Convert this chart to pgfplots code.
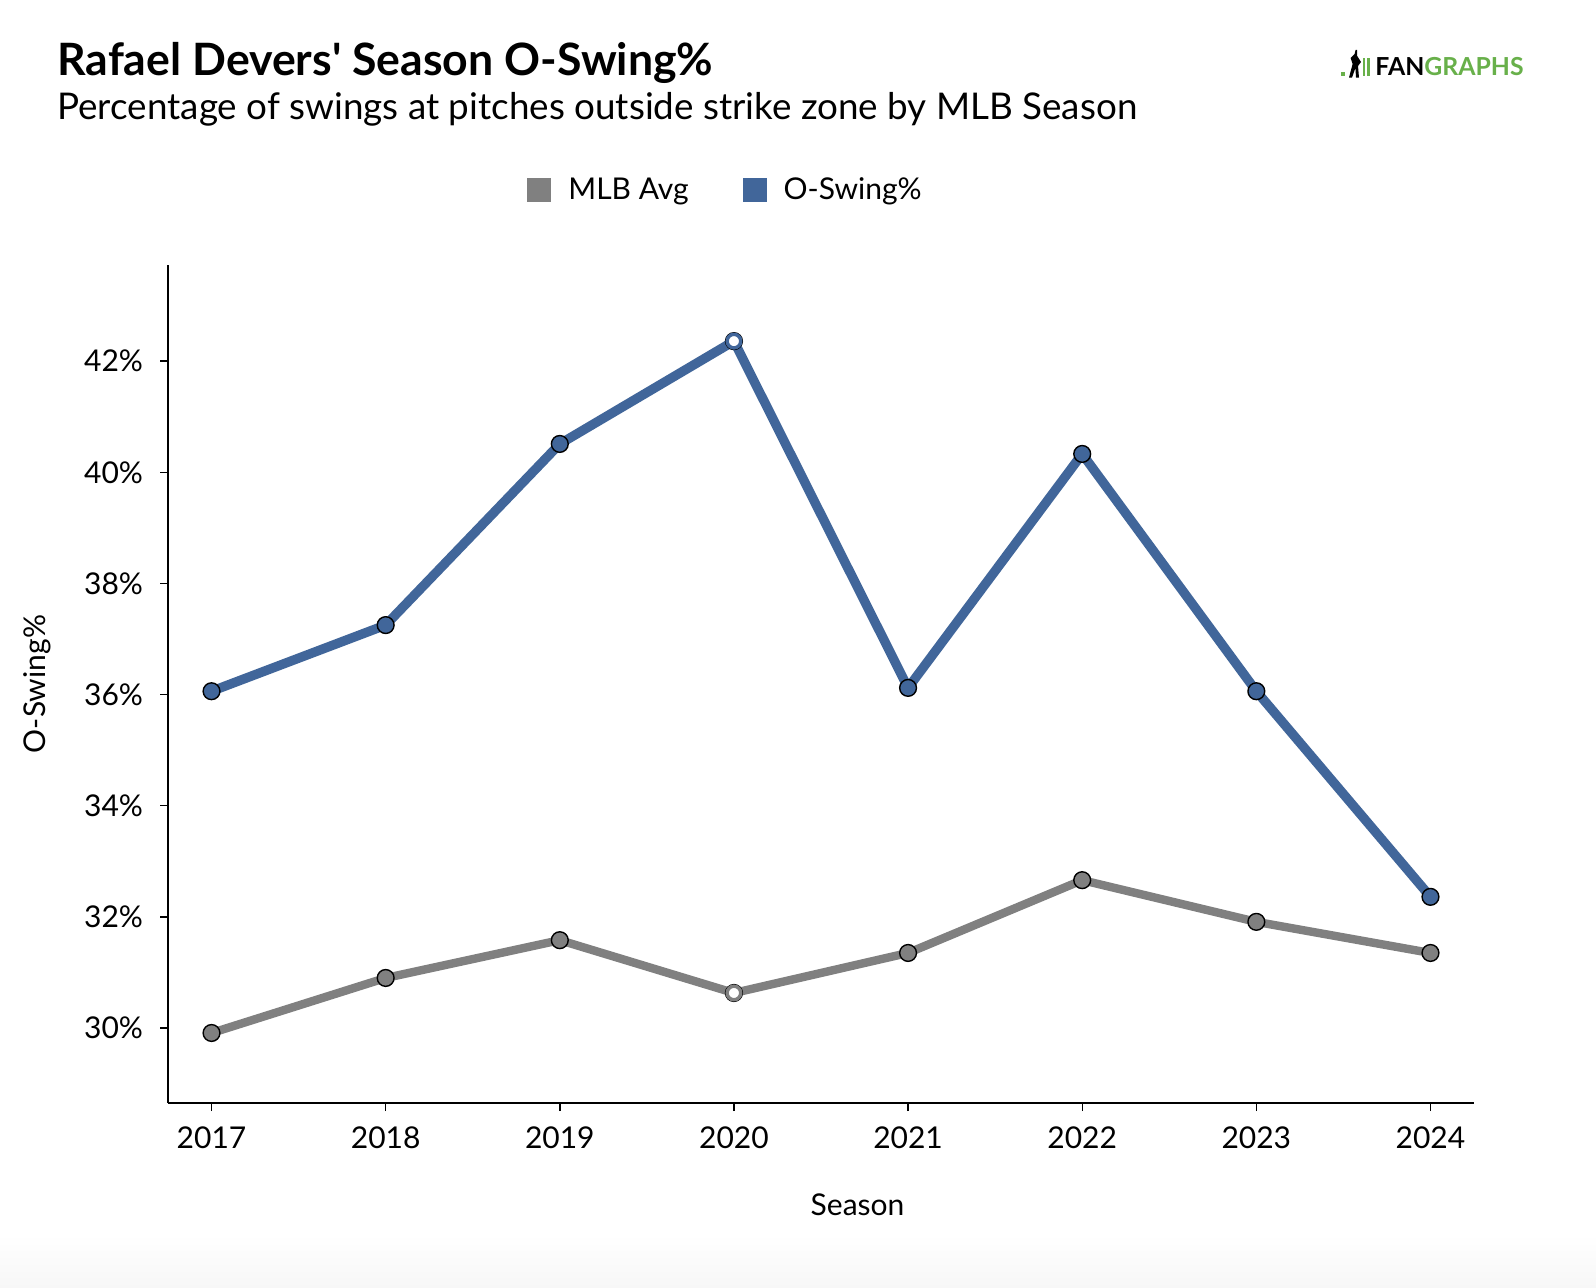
\documentclass[border=0pt]{standalone}
\usepackage{fontspec}
\setmainfont{Lato}
\usepackage{pgfplots}
\pgfplotsset{compat=1.18}
\definecolor{oblue}{RGB}{65,102,154}
\definecolor{mgray}{RGB}{128,128,128}
\definecolor{fggreen}{RGB}{104,176,74}
\definecolor{bgbot}{RGB}{247,247,247}
\begin{document}
\begin{tikzpicture}
\fill[white] (0,0) rectangle (798pt,-644pt);
\shade[top color=white,bottom color=bgbot] (0,-617pt) rectangle (798pt,-644pt);
\node[anchor=base west,inner sep=0pt,font=\bfseries\fontsize{22.3}{26}\selectfont] at (28.5pt,-38pt) {Rafael Devers\textquotesingle{} Season O-Swing\%};
\node[anchor=base west,inner sep=0pt,font=\fontsize{18.4}{22}\selectfont] at (28.5pt,-60pt) {Percentage of swings at pitches outside strike zone by MLB Season};
% logo
\fill[fggreen] (670.5pt,-38pt) rectangle (672.7pt,-35.8pt);
\fill[black] (674.5pt,-38.8pt) -- (676.3pt,-32pt) -- (675.3pt,-29pt) -- (677.3pt,-27pt) -- (677.8pt,-25pt) -- (678.5pt,-25pt) -- (678.6pt,-28pt) -- (680.5pt,-31pt) -- (679pt,-33pt) -- (679.5pt,-38.8pt) -- (678pt,-38.8pt) -- (677.7pt,-34pt) -- (676pt,-38.8pt) -- cycle;
\fill[fggreen] (681.6pt,-38pt) rectangle (682.7pt,-29pt);
\fill[fggreen] (683.7pt,-38pt) rectangle (684.8pt,-29pt);
\node[anchor=base east,inner sep=0pt,font=\bfseries\fontsize{12.4}{15}\selectfont] at (762pt,-38pt) {FAN\textcolor{fggreen}{GRAPHS}};
\begin{axis}[
  at={(84pt,-551.5pt)}, anchor=south west,
  scale only axis, width=653pt, height=419pt,
  xmin=2016.75, xmax=2024.25, ymin=28.65, ymax=43.73,
  axis x line*=bottom, axis y line*=left,
  axis line style={-, line width=1.3pt, black},
  tick align=outside, major tick length=4pt,
  tick style={black, line width=0.7pt},
  xtick={2017,2018,2019,2020,2021,2022,2023,2024},
  ytick={30,32,34,36,38,40,42},
  x tick label style={/pgf/number format/1000 sep={}, yshift=-4.5pt},
  y tick label style={xshift=-5pt},
  yticklabel={\pgfmathprintnumber{\tick}\%},
  /pgf/number format/assume math mode=true,
  ticklabel style={font=\fontsize{15}{18}\selectfont},
  xlabel={Season}, ylabel={O-Swing\%},
  label style={font=\fontsize{15}{18}\selectfont},
  xlabel style={at={(axis description cs:0.528,-0.1217)}, anchor=center},
  ylabel style={at={(axis description cs:-0.1003,0.5)}, anchor=center, rotate=0},
  legend columns=2,
  legend style={at={(0.2749,1.0895)}, anchor=west, draw=none, fill=none, inner sep=0pt,
    font=\fontsize{15}{18}\selectfont,
    /tikz/every odd column/.append style={column sep=6.5pt},
    /tikz/every even column/.append style={column sep=25pt}},
  legend image code/.code={\fill[#1] (0pt,-6pt) rectangle (12pt,6pt);},
  clip=false,
]
\addlegendimage{fill=mgray, draw=none}
\addlegendentry{MLB Avg}
\addlegendimage{fill=oblue, draw=none}
\addlegendentry{O-Swing\%}
\addplot[forget plot, mgray, line width=4.2pt, line join=round, mark=*, mark size=4.2pt,
  mark options={fill=mgray, draw=black, line width=0.7pt}]
  coordinates {(2017,29.91) (2018,30.90) (2019,31.58) (2020,30.63) (2021,31.35) (2022,32.66) (2023,31.91) (2024,31.35)};
\addplot[forget plot, oblue, line width=4.7pt, line join=round, mark=*, mark size=4.2pt,
  mark options={fill=oblue, draw=black, line width=0.7pt}]
  coordinates {(2017,36.06) (2018,37.25) (2019,40.51) (2020,42.36) (2021,36.12) (2022,40.33) (2023,36.06) (2024,32.36)};
\addplot[forget plot, only marks, mark=*, mark size=3.4pt, mark options={fill=white, draw=mgray, line width=1.7pt}]
  coordinates {(2020,30.63)};
\addplot[forget plot, only marks, mark=*, mark size=3.4pt, mark options={fill=white, draw=oblue, line width=1.7pt}]
  coordinates {(2020,42.36)};
\end{axis}
\end{tikzpicture}
\end{document}
